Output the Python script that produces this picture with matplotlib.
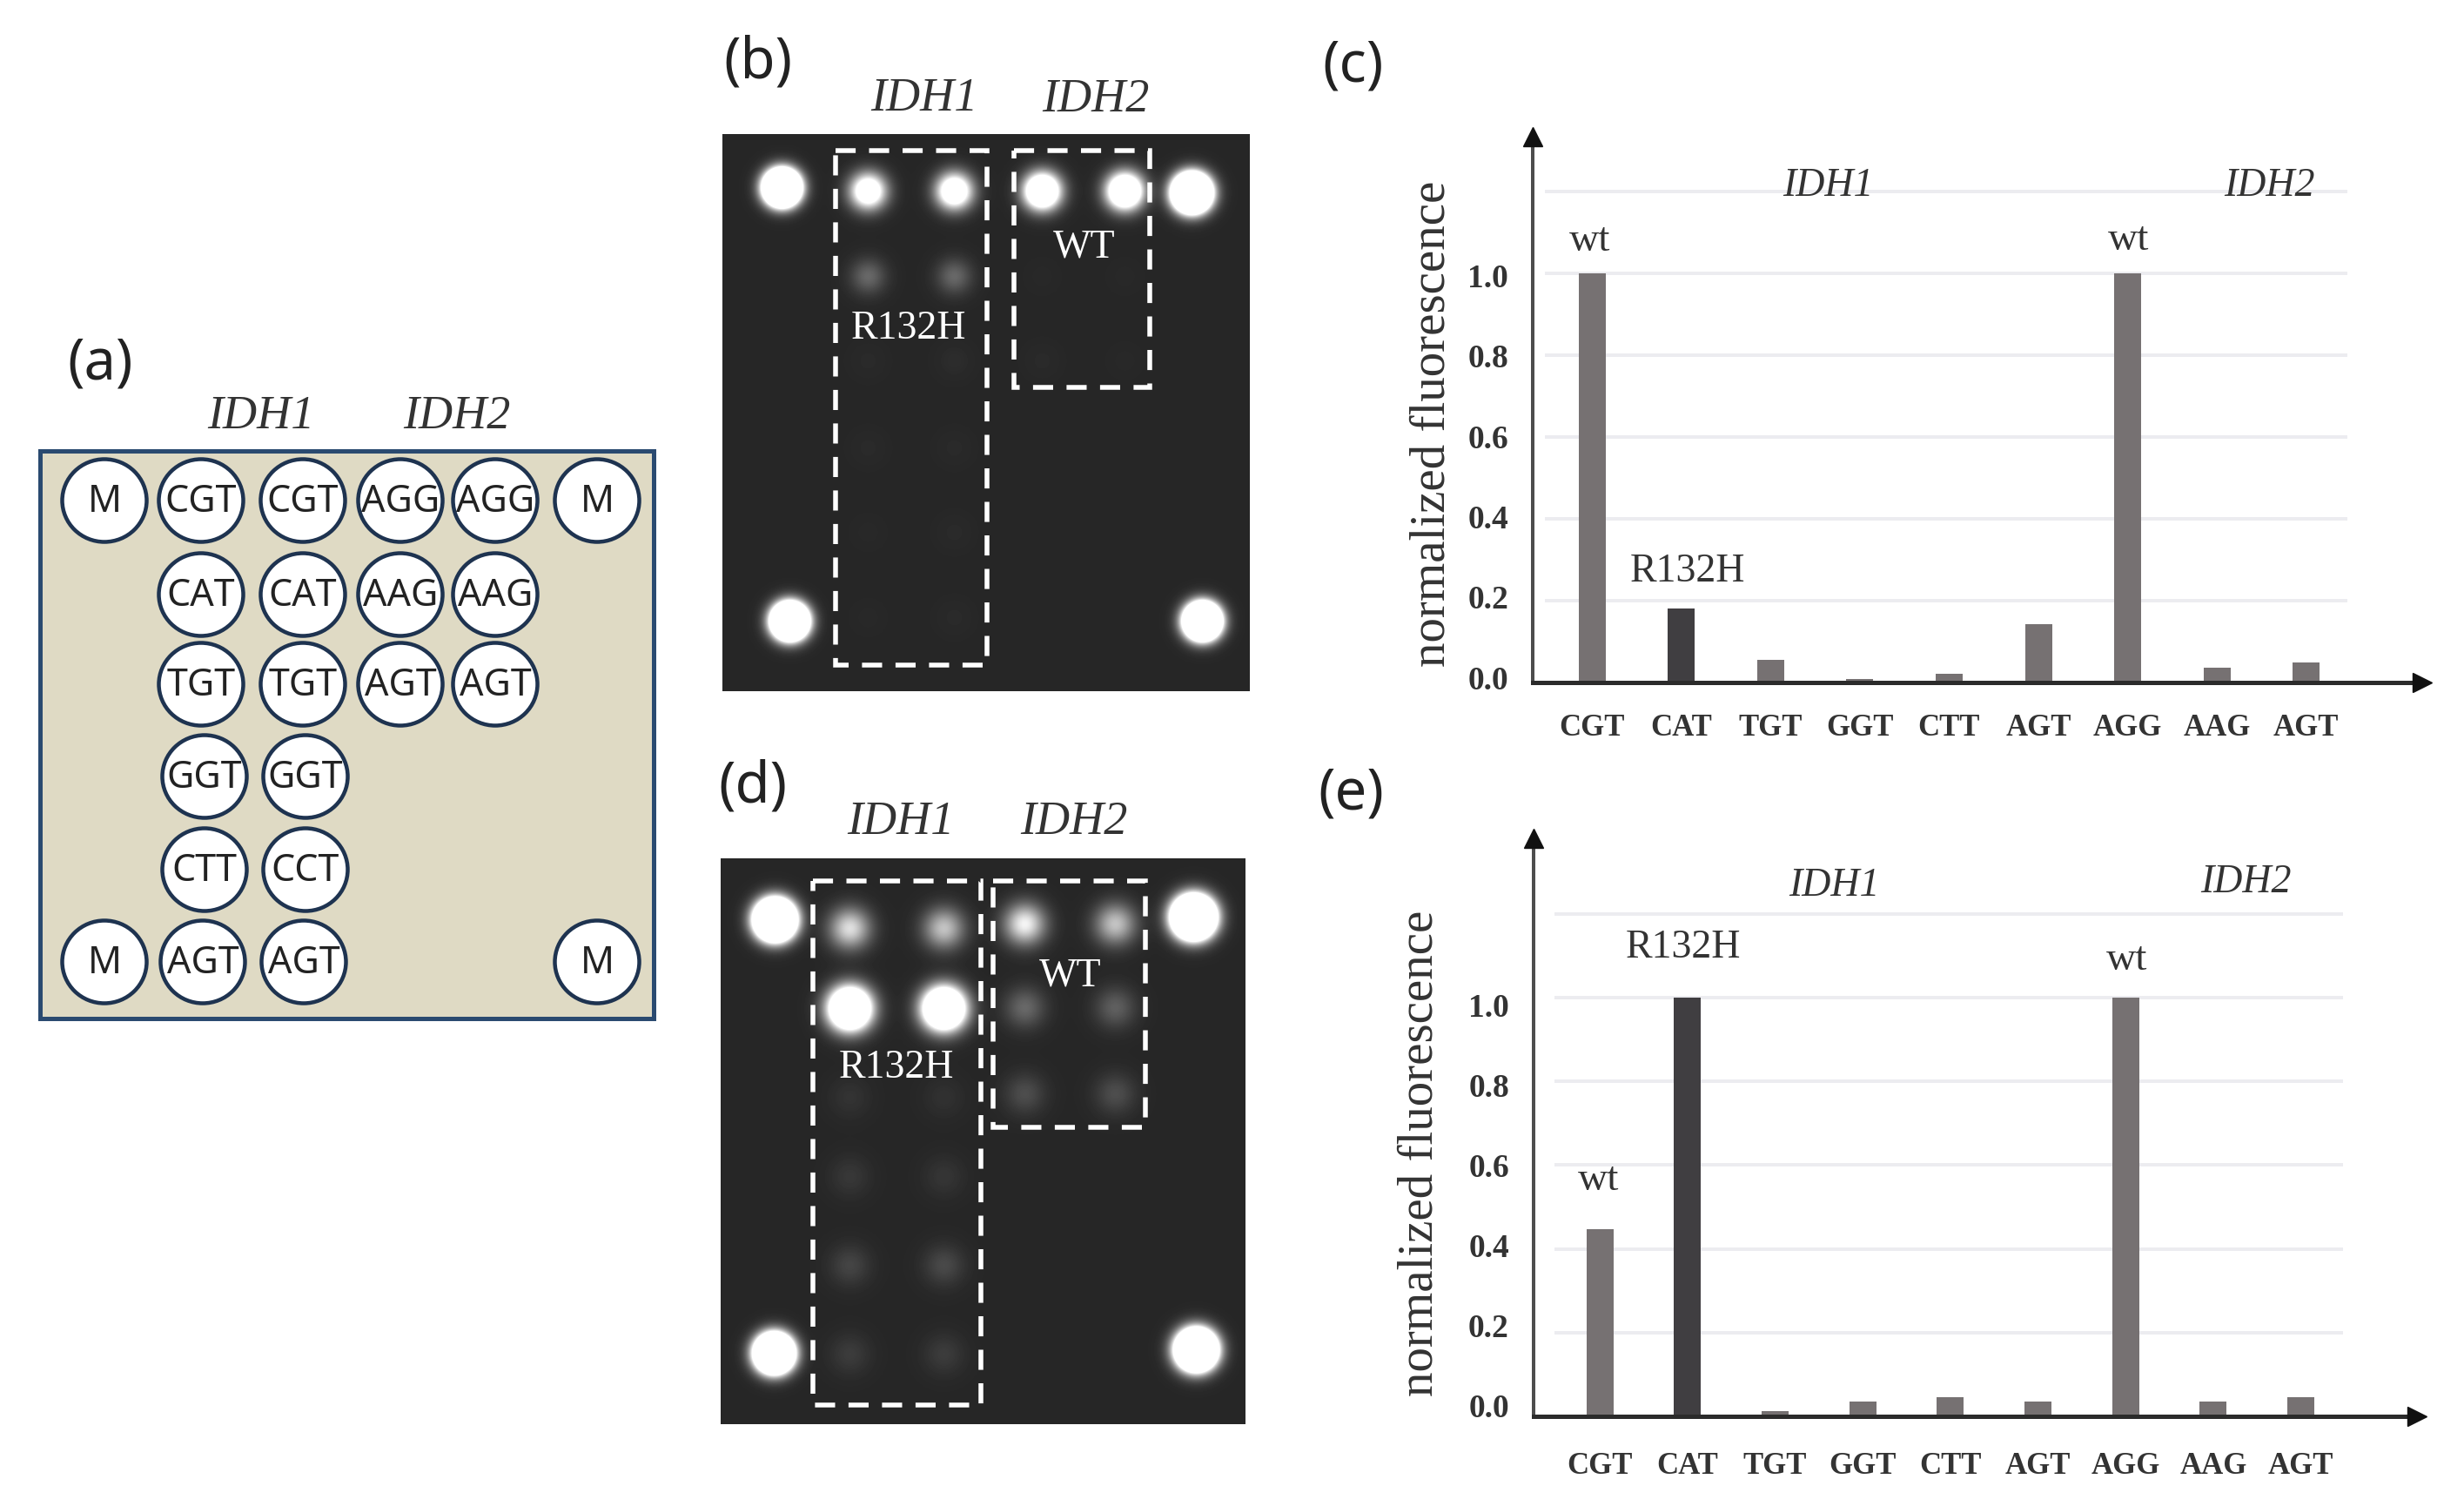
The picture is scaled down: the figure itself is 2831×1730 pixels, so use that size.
import numpy as np
import matplotlib
matplotlib.use("Agg")
import matplotlib.pyplot as plt
from matplotlib.patches import Rectangle, Ellipse
from matplotlib.transforms import ScaledTranslation

# ---------- data ----------
codons = ["CGT", "CAT", "TGT", "GGT", "CTT", "AGT", "AGG", "AAG", "AGT"]
bar_kind = ["wt", "mut", "o", "o", "o", "o", "o", "o", "o"]
values_c = [1.0, 0.18, 0.055, 0.008, 0.022, 0.142, 1.0, 0.037, 0.05]
values_e = [0.447, 1.0, 0.012, 0.035, 0.045, 0.035, 1.0, 0.035, 0.045]
y_ticks = [0.0, 0.2, 0.4, 0.6, 0.8, 1.0]
grid_levels = [0.2, 0.4, 0.6, 0.8, 1.0, 1.2]

plate_labels = [
    ["M", "CGT", "CGT", "AGG", "AGG", "M"],
    ["", "CAT", "CAT", "AAG", "AAG", ""],
    ["", "TGT", "TGT", "AGT", "AGT", ""],
    ["", "GGT", "GGT", "", "", ""],
    ["", "CTT", "CCT", "", "", ""],
    ["M", "AGT", "AGT", "", "", "M"],
]

# relative spot brightness read from the two membranes
b_idh1 = [[1.6, 1.7], [0.30, 0.30], [0.02, 0.03], [0.02, 0.02], [0.01, 0.02], [0.01, 0.02]]
b_idh2 = [[2.3, 2.3], [0.01, 0.01], [0.02, 0.01]]
d_idh1 = [[0.85, 0.72], [3.0, 3.0], [0.06, 0.05], [0.08, 0.07], [0.14, 0.16], [0.10, 0.10]]
d_idh2 = [[0.95, 0.72], [0.30, 0.26], [0.18, 0.18]]

# ---------- style ----------
W, H = 2831, 1730
DPI = 100
SERIF = "Liberation Serif"
SANS = "Noto Sans"
INK = "#333333"
GREY = "#767172"
DARK = "#403e41"
GRID = "#ececf0"
PX = 72 / DPI
TEXT_DROP = 4

fig = plt.figure(figsize=(W / DPI, H / DPI), dpi=DPI, facecolor="white")
page = fig.add_axes([0, 0, 1, 1], zorder=3)
page.set_xlim(0, W)
page.set_ylim(H, 0)
page.axis("off")


def label(x, y, s, size, **kw):
    kw.setdefault("ha", "center")
    kw.setdefault("va", "center")
    kw.setdefault("family", SERIF)
    kw.setdefault("color", INK)
    page.text(x, y + TEXT_DROP, s, fontsize=size, **kw)


# ---------- panel a ----------
page.add_patch(Rectangle((46, 518), 705, 652, fc="#dfdac4", ec="#2a4a70", lw=5 * PX))
col_x = [120, 231, 348, 460, 569, 686]
row_y = [575, 683, 786, 892, 999, 1105]
col_shift = {3: (4, 3), 4: (4, 3), 5: (2, 1)}
for r, row in enumerate(plate_labels):
    for c, txt in enumerate(row):
        if not txt:
            continue
        shift = col_shift.get(r, (0, 0))
        x = col_x[c] + (shift[c - 1] if c in (1, 2) else 0)
        y = row_y[r]
        page.add_patch(Ellipse((x, y), 97, 95, fc="white", ec="#1e3350", lw=4.5 * PX, zorder=2))
        label(x, y - 2, txt, 31, family=SANS, color="#222222", zorder=3)
label(115, 415, "(a)", 47, family=SANS, color="#222222")
label(300, 475, "IDH1", 39, style="italic")
label(525, 475, "IDH2", 39, style="italic")


# ---------- panels b, d ----------
def blot(extent, spots, boxes, bg=0.15):
    x0, x1, y0, y1 = extent
    xx, yy = np.meshgrid(np.arange(x0, x1), np.arange(y0, y1))
    img = np.zeros_like(xx, dtype=float)
    for sx, sy, amp, s in spots:
        img += amp * np.exp(-((xx - sx) ** 2 + (yy - sy) ** 2) / s ** 2)
    img = bg + (1 - bg) * np.clip(img, 0, 1)
    page.imshow(img, extent=(x0, x1, y1, y0), cmap="gray", vmin=0, vmax=1,
                aspect="auto", interpolation="bilinear", zorder=1)
    for bx0, bx1, by0, by1 in boxes:
        page.add_patch(Rectangle((bx0, by0), bx1 - bx0, by1 - by0, fill=False, ec="white",
                                 lw=5.5 * PX, ls=(0, (4.2, 2.8)), zorder=2))


def grid_spots(matrix, xs, ys, s):
    out = []
    for i, row in enumerate(matrix):
        for j, amp in enumerate(row):
            out.append((xs[j], ys[i], amp, s))
    return out


marker_s = 18
b_markers = [(898, 215, 6, marker_s), (1369, 221, 6, marker_s + 1),
             (907, 713, 6, marker_s), (1381, 713, 6, marker_s)]
b_spots = (b_markers
           + grid_spots(b_idh1, [997, 1096], [219, 317, 414, 514, 611, 709], 20)
           + grid_spots(b_idh2, [1197, 1292], [219, 317, 414], 20))
blot((830, 1436, 154, 794), b_spots, [(960, 1134, 173, 764), (1165, 1321, 173, 445)])

d_markers = [(890, 1056, 6, marker_s + 2), (1371, 1053, 6, marker_s + 3),
             (889, 1554, 6, marker_s + 1), (1374, 1550, 6, marker_s + 2)]
d_spots = (d_markers
           + grid_spots(d_idh1, [976, 1084], [1066, 1158, 1260, 1351, 1453, 1555], 23)
           + grid_spots(d_idh2, [1177, 1281], [1061, 1157, 1256], 23))
blot((828, 1431, 986, 1636), d_spots, [(934, 1127, 1012, 1614), (1141, 1316, 1012, 1295)])
page.set_xlim(0, W)
page.set_ylim(H, 0)

label(871, 68, "(b)", 47, family=SANS, color="#222222")
label(1062, 110, "IDH1", 39, style="italic")
label(1259, 111, "IDH2", 39, style="italic")
label(1246, 280, "WT", 33, color="white", zorder=4)
label(1044, 374, "R132H", 33, color="white", zorder=4)

label(865, 901, "(d)", 47, family=SANS, color="#222222")
label(1035, 941, "IDH1", 39, style="italic")
label(1234, 941, "IDH2", 39, style="italic")
label(1230, 1117, "WT", 33, color="white", zorder=4)
label(1030, 1223, "R132H", 33, color="white", zorder=4)


# ---------- panels c, e ----------
def bar_panel(values, left, right, top, zero_y, unit, first_x, step, grid_x, label_x,
              label_y, tick_shift, xtick_pad):
    ax = fig.add_axes([left / W, 1 - zero_y / H, (right - left) / W, (zero_y - top) / H],
                      zorder=2)
    ax.patch.set_alpha(0)
    ax.set_xlim((left - first_x) / step, (right - first_x) / step)
    ax.set_ylim(0, (zero_y - top) / unit)
    gx0, gx1 = [(g - first_x) / step for g in grid_x]
    ax.hlines(grid_levels, gx0, gx1, color=GRID, lw=4 * PX, zorder=1)
    colors = [DARK if k == "mut" else GREY for k in bar_kind]
    ax.bar(range(len(values)), values, width=31 / step, color=colors, zorder=2)
    for side in ("top", "right"):
        ax.spines[side].set_visible(False)
    ax.spines["left"].set_linewidth(4 * PX)
    ax.spines["left"].set_color("#4d4d4d")
    ax.spines["bottom"].set_linewidth(5 * PX)
    ax.spines["bottom"].set_color("#2b2b2b")
    ax.spines["left"].set_zorder(3)
    ax.spines["bottom"].set_zorder(3)
    ax.plot(1, 0, marker=">", color="#111111", ms=16, transform=ax.transAxes,
            clip_on=False, zorder=4)
    ax.plot(0, 1, marker="^", color="#111111", ms=16, transform=ax.transAxes,
            clip_on=False, zorder=4)
    ax.set_xticks(range(len(codons)))
    ax.set_xticklabels(codons, family=SERIF, weight="bold", fontsize=25, color=INK)
    ax.set_yticks(y_ticks)
    ax.set_yticklabels([f"{v:.1f}" for v in y_ticks], family=SERIF, weight="bold",
                       fontsize=27, color=INK)
    ax.tick_params(axis="x", length=0, pad=xtick_pad * PX)
    ax.tick_params(axis="y", length=0, pad=28 * PX)
    lo, hi = tick_shift
    for v, tick in zip(y_ticks, ax.yaxis.get_major_ticks()):
        dy = (lo + (hi - lo) * v) / DPI
        tick.label1.set_transform(tick.label1.get_transform()
                                  + ScaledTranslation(0, dy, fig.dpi_scale_trans))
    ax.set_ylabel("normalized fluorescence", family=SERIF, fontsize=41, color=INK, va="center")
    ax.yaxis.set_label_coords((label_x - left) / (right - left),
                              (zero_y - label_y) / (zero_y - top))
    return ax


bar_panel(values_c, 1761, 2783, 157, 784, 470, 1829, 102.6, (1775, 2697), 1646, 487, (6, -2.5), 36)
bar_panel(values_e, 1762, 2777, 963, 1627, 481, 1838, 100.7, (1786, 2692), 1632, 1325, (12, -9), 41)

label(1555, 73, "(c)", 47, family=SANS, color="#222222")
label(2100, 210, "IDH1", 33, style="italic")
label(2607, 210, "IDH2", 33, style="italic")
label(1827, 273, "wt", 34)
label(2446, 272, "wt", 34)
label(1939, 653, "R132H", 33)

label(1552, 908, "(e)", 47, family=SANS, color="#222222")
label(2107, 1014, "IDH1", 33, style="italic")
label(2580, 1010, "IDH2", 33, style="italic")
label(1837, 1352, "wt", 34)
label(2444, 1099, "wt", 34)
label(1934, 1085, "R132H", 33)

fig.savefig("out.png", dpi=DPI, facecolor="white")
